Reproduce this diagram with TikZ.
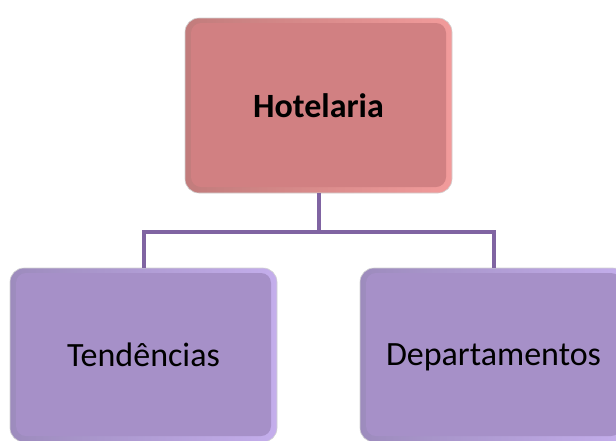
\documentclass[tikz,border=0pt]{standalone}
\usepackage{fontspec}
\setmainfont{Carlito}
\usetikzlibrary{calc}
\definecolor{rosefill}{RGB}{209,128,130}
\definecolor{roseedge}{RGB}{242,155,155}
\definecolor{lilacfill}{RGB}{166,144,200}
\definecolor{lilacedge}{RGB}{196,174,236}
\definecolor{linkpurple}{RGB}{128,100,162}
\tikzset{
  bevelbox/.style n args={3}{rounded corners=14pt, minimum width=267pt, minimum height=#1,
    left color=#2!80!black, right color=#2, draw=gray!35, line width=0.6pt,
    font=\fontsize{34}{40}\selectfont, text=black,
    path picture={\fill[#3, rounded corners=10pt]
      ([shift={(6pt,6pt)}]path picture bounding box.south west) rectangle
      ([shift={(-6pt,-5pt)}]path picture bounding box.north east);}},
  link/.style={draw=linkpurple, line width=4pt}
}
\begin{document}
\begin{tikzpicture}[x=1pt,y=-1pt]
\clip (0,0) rectangle (616,440);
\fill[white] (0,0) rectangle (616,440);
\node[bevelbox={175pt}{roseedge}{rosefill}, font=\fontsize{34}{40}\selectfont\bfseries] (hotel) at (318.5,105.5) {Hotelaria};
\foreach \x/\n/\t in {143.5/tend/Tendências, 493.5/dept/Departamentos}
  \node[bevelbox={174pt}{lilacedge}{lilacfill}, text depth=0pt] (\n) at (\x,355) {\t};
\draw[link] (hotel.south) -- ++(0,39) coordinate (split);
\draw[link] (tend.north) |- (split) -| (dept.north);
\end{tikzpicture}
\end{document}
